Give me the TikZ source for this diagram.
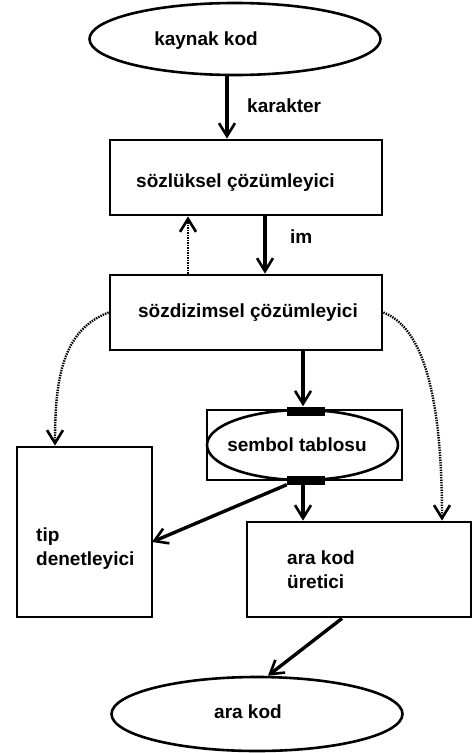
\documentclass[tikz,border=0pt]{standalone}
\usepackage{fontspec}
\setmainfont{Liberation Sans}
\usetikzlibrary{shapes.geometric,arrows.meta}
\begin{document}
\begin{tikzpicture}[x=1pt,y=-1pt,
  every node/.style={font=\fontsize{19}{24}\selectfont\bfseries},
  boxn/.style={draw, line width=2.8pt, inner sep=0pt},
  ell/.style={draw, ellipse, line width=2.6pt, inner sep=0pt},
  bar/.style={fill=black, draw=none, inner sep=0pt, minimum width=38pt, minimum height=9pt},
  tipb/.style={-{Straight Barb[length=13pt,width=16pt,line width=2.6pt]}},
  arr/.style={line width=3.4pt, tipb},
  dotarr/.style={line width=2.4pt, dash pattern=on 1.4pt off 1.1pt, tipb}]
\useasboundingbox (0,0) rectangle (473,753);

% nodes
\node[ell, minimum width=291pt, minimum height=72pt] (src) at (235,39) {};
\node (srct) at (206,41) {kaynak kod};

\node[boxn, minimum width=272pt, minimum height=75pt] (lex) at (246,177.5) {};
\node (lext) at (235.5,183) {sözlüksel çözümleyici};

\node[boxn, minimum width=272pt, minimum height=75pt] (syn) at (246,312.5) {};
\node (synt) at (248,313) {sözdizimsel çözümleyici};

\node[boxn, minimum width=195pt, minimum height=70pt] (symr) at (304.5,445) {};
\node[ell, minimum width=191pt, minimum height=70pt] (syme) at (302.5,445) {};
\node (symt) at (297,445) {sembol tablosu};
\node[bar] (topbar) at (306,411) {};
\node[bar] (botbar) at (306,480) {};

\node[boxn, minimum width=135pt, minimum height=170pt] (tip) at (84.5,532) {};
\node[align=left, anchor=west, inner sep=0pt] (tipt) at (36,549) {tip\\denetleyici};

\node[boxn, minimum width=224pt, minimum height=95pt] (gen) at (359,569.5) {};
\node[align=left, anchor=west, inner sep=0pt] (gent) at (287,570) {ara kod\\üretici};

\node[ell, minimum width=291pt, minimum height=74pt] (out) at (257,714) {};
\node (outt) at (248,712) {ara kod};

\node[anchor=west, inner sep=0pt] (kar) at (247,106) {karakter};
\node[anchor=west, inner sep=0pt] (im) at (290,237) {im};

% helper coordinates
\coordinate (xa) at (227,0);
\coordinate (xb) at (265,0);
\coordinate (xc) at (188,0);
\coordinate (xd) at (303,0);
\coordinate (xe) at (55,0);
\coordinate (xf) at (442,0);
\coordinate (xg) at (342,0);
\coordinate (xh) at (268,0);
\coordinate (te) at (152,542);

% connectors
\draw[arr] (src.south -| xa) -- (lex.north -| xa);
\draw[arr] (lex.south -| xb) -- (syn.north -| xb);
\draw[dotarr] (syn.north -| xc) -- (lex.south -| xc);
\draw[arr] (syn.south -| xd) -- (topbar.north -| xd);
\draw[dotarr] (syn.west) .. controls (62,330) and (55,380) .. (tip.north -| xe);
\draw[dotarr] (syn.east) .. controls (430,330) and (442,420) .. (gen.north -| xf);
\draw[arr] (botbar.south -| xd) -- (gen.north -| xd);
\draw[arr] (botbar.south west) -- (te);
\draw[arr] (gen.south -| xg) -- (out.north -| xh);
\end{tikzpicture}
\end{document}
